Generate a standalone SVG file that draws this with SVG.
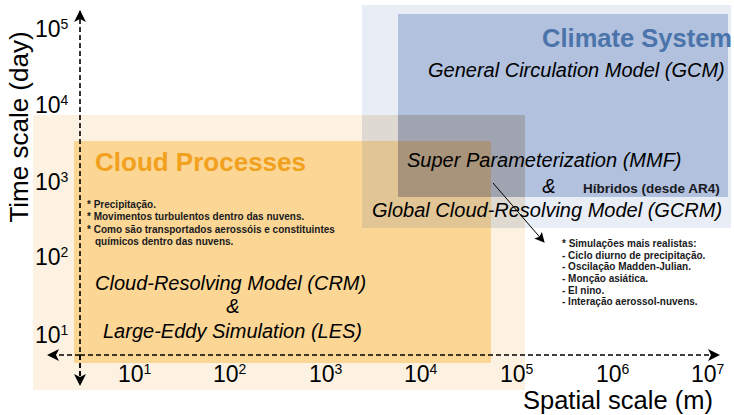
<svg xmlns="http://www.w3.org/2000/svg" width="734" height="415" viewBox="0 0 734 415">
<defs>
<style>
text{font-family:"Liberation Sans",Arial,sans-serif;fill:#000}
.ax{font-size:23px}
.sup{font-size:14px}
.it{font-size:20px;font-style:italic}
.bl{font-size:10px;font-weight:bold;fill:#1a1a22}
.axis{stroke:#000;stroke-width:1.6;stroke-dasharray:5,3;fill:none}
</style>
<marker id="ah" viewBox="0 0 12 12" refX="11" refY="6" markerWidth="12" markerHeight="12" markerUnits="userSpaceOnUse" orient="auto">
<path d="M0,0 L12,6 L0,12 L3,6 z" fill="#000"/>
</marker>
<marker id="ah2" viewBox="0 0 10 10" refX="9" refY="5" markerWidth="10" markerHeight="10" markerUnits="userSpaceOnUse" orient="auto">
<path d="M0,0 L10,5 L0,10 L2,5 z" fill="#000"/>
</marker>
</defs>
<rect width="734" height="415" fill="#fff"/>
<g id="regions">
<rect x="33" y="115" width="492" height="275" fill="#fdf2e2"/>
<rect x="74" y="141" width="417" height="222" fill="#fbd694"/>
<rect x="362" y="5" width="369" height="223" fill="#e9edf6"/>
<rect x="398" y="14" width="330" height="183" fill="#b1c1de"/>
<rect x="362" y="115" width="163" height="113" fill="#dedad2"/>
<rect x="362" y="141" width="129" height="87" fill="#e1c595"/>
<rect x="398" y="115" width="127" height="82" fill="#9fa4b0"/>
<rect x="398" y="141" width="93" height="56" fill="#a8947a"/>
</g>
<g id="connectors">
<line class="axis" x1="80" y1="384" x2="80" y2="11" marker-end="url(#ah)"/>
<line class="axis" x1="80" y1="355" x2="80" y2="385" marker-end="url(#ah)"/>
<line class="axis" x1="80" y1="355" x2="48" y2="355" marker-end="url(#ah)"/>
<line class="axis" x1="80" y1="355" x2="719" y2="355" marker-end="url(#ah)"/>
<line x1="493" y1="183" x2="544" y2="242" stroke="#000" stroke-width="1" marker-end="url(#ah2)"/>
</g>
<g id="y-axis-labels">
<text class="ax" x="35" y="37">10<tspan class="sup" dy="-8">5</tspan></text>
<text class="ax" x="35" y="113">10<tspan class="sup" dy="-8">4</tspan></text>
<text class="ax" x="35" y="190">10<tspan class="sup" dy="-8">3</tspan></text>
<text class="ax" x="35" y="265">10<tspan class="sup" dy="-8">2</tspan></text>
<text class="ax" x="35" y="343">10<tspan class="sup" dy="-8">1</tspan></text>
<text x="0" y="0" font-size="26" text-anchor="middle" transform="translate(28,127) rotate(-90)">Time scale (day)</text>
</g>
<g id="x-axis-labels">
<text class="ax" x="118" y="382">10<tspan class="sup" dy="-8">1</tspan></text>
<text class="ax" x="213" y="382">10<tspan class="sup" dy="-8">2</tspan></text>
<text class="ax" x="309" y="382">10<tspan class="sup" dy="-8">3</tspan></text>
<text class="ax" x="404" y="382">10<tspan class="sup" dy="-8">4</tspan></text>
<text class="ax" x="500" y="382">10<tspan class="sup" dy="-8">5</tspan></text>
<text class="ax" x="596" y="382">10<tspan class="sup" dy="-8">6</tspan></text>
<text class="ax" x="691" y="382">10<tspan class="sup" dy="-8">7</tspan></text>
<text x="523" y="409" font-size="25.5">Spatial scale (m)</text>
</g>
<g id="climate-system">
<text x="732" y="47" font-size="25.5" font-weight="bold" text-anchor="end" style="fill:#4b74aa">Climate System</text>
<text class="it" x="428" y="77">General Circulation Model (GCM)</text>
</g>
<g id="super-parameterization">
<text class="it" x="407" y="167">Super Parameterization (MMF)</text>
<text class="it" x="549" y="193" text-anchor="middle">&amp;</text>
<text x="583" y="193" font-size="13.5" font-weight="bold" style="fill:#1a1a22">Híbridos (desde AR4)</text>
<text class="it" x="372" y="217">Global Cloud-Resolving Model (GCRM)</text>
</g>
<g id="cloud-processes">
<text x="95" y="171" font-size="26" font-weight="bold" style="fill:#f2a11e">Cloud Processes</text>
<text class="bl" x="87" y="208">* Precipitação.</text>
<text class="bl" x="87" y="220">* Movimentos turbulentos dentro das nuvens.</text>
<text class="bl" x="87" y="233">* Como são transportados aerossóis e constituintes</text>
<text class="bl" x="95" y="245">químicos dentro das nuvens.</text>
<text class="it" x="95" y="290">Cloud-Resolving Model (CRM)</text>
<text class="it" x="233" y="313" text-anchor="middle">&amp;</text>
<text class="it" x="103" y="338">Large-Eddy Simulation (LES)</text>
</g>
<g id="simulations">
<text class="bl" x="562" y="247">* Simulações mais realistas:</text>
<text class="bl" x="562" y="258.5">- Ciclo diurno de precipitação.</text>
<text class="bl" x="562" y="270">- Oscilação Madden-Julian.</text>
<text class="bl" x="562" y="282">- Monção asiática.</text>
<text class="bl" x="562" y="293.5">- El nino.</text>
<text class="bl" x="562" y="305">- Interação aerossol-nuvens.</text>
</g>
</svg>
